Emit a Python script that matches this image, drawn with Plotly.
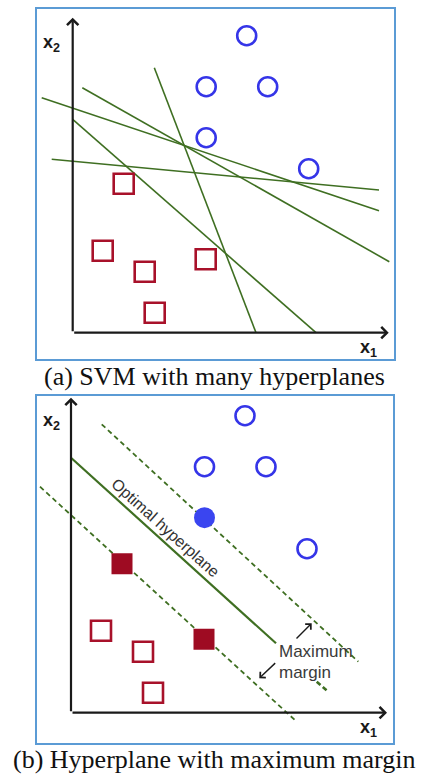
import plotly.graph_objects as go

# ---------------- data (coordinates relative to the x1/x2 origin) ----------------
circle_x = [174, 133.5, 195, 133.5, 236]
circle_y = [297, 246, 246, 195, 164]
square_x = [51, 30, 72, 133, 82]
square_y = [149, 82, 61, 73.5, 20]
support_circles = [3]        # filled circle in panel (b)
support_squares = [0, 3]     # filled squares in panel (b)

# panel (a): many separating hyperplanes (start / end points)
hyp_x0 = [81.6, -31, 9.6, 0, -21]
hyp_y0 = [265, 235, 245, 213.4, 173.4]
hyp_x1 = [183.3, 306.3, 316.6, 243.3, 306.3]
hyp_y1 = [0, 122, 71, 0, 142.7]

# panel (b): optimal hyperplane and margins
opt_x = [0, 205]
opt_y = [255, 69.4]
opt_tail_x = [245.7, 257.3]
opt_tail_y = [31, 21]
upper_x = [30.7, 287.3]
upper_y = [288.4, 51]
lower_x = [-31, 225.7]
lower_y = [226, -9]

axis_end_x = 316
axis_end_y = 315

captions = ["(a) SVM with many hyperplanes", "(b) Hyperplane with maximum margin"]

# ---------------- styles ----------------
GREEN = "#3f6f22"
BLUE = "#3535e8"
RED = "#a8112a"
FRAME = "#5b9bd5"
AXC = "#1a1a1a"
SANS = "Liberation Sans, Arial, sans-serif"
SERIF = "Liberation Serif, Times New Roman, serif"

fig = go.Figure()


def seg_xy(x0, y0, x1, y1):
    xs, ys = [], []
    for a, b, c, d in zip(x0, y0, x1, y1):
        xs += [a, c, None]
        ys += [b, d, None]
    return xs, ys


# panel (a)
hx, hy = seg_xy(hyp_x0, hyp_y0, hyp_x1, hyp_y1)
fig.add_trace(go.Scatter(x=hx, y=hy, mode="lines", line=dict(color=GREEN, width=1.6),
                         xaxis="x", yaxis="y", hoverinfo="skip"))
fig.add_trace(go.Scatter(x=circle_x, y=circle_y, mode="markers",
                         marker=dict(symbol="circle-open", size=19, color=BLUE,
                                     line=dict(width=2.6, color=BLUE)),
                         xaxis="x", yaxis="y"))
fig.add_trace(go.Scatter(x=square_x, y=square_y, mode="markers",
                         marker=dict(symbol="square-open", size=20, color=RED,
                                     line=dict(width=2.6, color=RED)),
                         xaxis="x", yaxis="y"))

# panel (b)
fig.add_trace(go.Scatter(x=opt_x, y=opt_y, mode="lines", line=dict(color=GREEN, width=2.2),
                         xaxis="x2", yaxis="y2", hoverinfo="skip"))
fig.add_trace(go.Scatter(x=opt_tail_x, y=opt_tail_y, mode="lines",
                         line=dict(color=GREEN, width=2.6, dash="5px,3px"),
                         xaxis="x2", yaxis="y2", hoverinfo="skip"))
for lx, ly in ((upper_x, upper_y), (lower_x, lower_y)):
    fig.add_trace(go.Scatter(x=lx, y=ly, mode="lines",
                             line=dict(color=GREEN, width=1.8, dash="5px,3.5px"),
                             xaxis="x2", yaxis="y2", hoverinfo="skip"))

open_c = [i for i in range(len(circle_x)) if i not in support_circles]
open_s = [i for i in range(len(square_x)) if i not in support_squares]
fig.add_trace(go.Scatter(x=[circle_x[i] for i in open_c], y=[circle_y[i] for i in open_c],
                         mode="markers",
                         marker=dict(symbol="circle-open", size=19, color=BLUE,
                                     line=dict(width=2.6, color=BLUE)),
                         xaxis="x2", yaxis="y2"))
fig.add_trace(go.Scatter(x=[circle_x[i] for i in support_circles],
                         y=[circle_y[i] for i in support_circles], mode="markers",
                         marker=dict(symbol="circle", size=21, color="#3a45f0",
                                     line=dict(width=0)),
                         xaxis="x2", yaxis="y2"))
fig.add_trace(go.Scatter(x=[square_x[i] for i in open_s], y=[square_y[i] for i in open_s],
                         mode="markers",
                         marker=dict(symbol="square-open", size=20, color=RED,
                                     line=dict(width=2.6, color=RED)),
                         xaxis="x2", yaxis="y2"))
fig.add_trace(go.Scatter(x=[square_x[i] for i in support_squares],
                         y=[square_y[i] for i in support_squares], mode="markers",
                         marker=dict(symbol="square", size=21, color="#9e0b22",
                                     line=dict(width=0)),
                         xaxis="x2", yaxis="y2"))

annotations = []
for xr, yr, lab_y2, lab_x1 in (("x", "y", (-21, 289), (296, -16)),
                               ("x2", "y2", (-20, 291), (297, -16))):
    # axes arrows
    annotations.append(dict(x=axis_end_x, y=0, ax=0, ay=0, xref=xr, yref=yr, axref=xr, ayref=yr,
                            showarrow=True, arrowhead=4, arrowsize=1.0, arrowwidth=2.2,
                            arrowcolor=AXC, text=""))
    annotations.append(dict(x=0, y=axis_end_y, ax=0, ay=0, xref=xr, yref=yr, axref=xr, ayref=yr,
                            showarrow=True, arrowhead=4, arrowsize=1.0, arrowwidth=2.2,
                            arrowcolor=AXC, text=""))
    annotations.append(dict(x=lab_y2[0], y=lab_y2[1], xref=xr, yref=yr, showarrow=False,
                            xanchor="center", yanchor="middle",
                            text="<b>x<sub>2</sub></b>", font=dict(family=SANS, size=18, color=AXC)))
    annotations.append(dict(x=lab_x1[0], y=lab_x1[1], xref=xr, yref=yr, showarrow=False,
                            xanchor="center", yanchor="middle",
                            text="<b>x<sub>1</sub></b>", font=dict(family=SANS, size=18, color=AXC)))

annotations.append(dict(x=94, y=185, xref="x2", yref="y2", showarrow=False, textangle=42,
                        text="Optimal hyperplane", font=dict(family=SANS, size=16, color="#333333")))
annotations.append(dict(x=206, y=61, xref="x2", yref="y2", showarrow=False, xanchor="left",
                        yanchor="middle",
                        text="Maximum", font=dict(family=SANS, size=17, color="#3a3a3a")))
annotations.append(dict(x=206, y=40, xref="x2", yref="y2", showarrow=False, xanchor="left",
                        yanchor="middle",
                        text="margin", font=dict(family=SANS, size=17, color="#3a3a3a")))
annotations.append(dict(x=240.7, y=89.4, ax=224, ay=72.7, xref="x2", yref="y2", axref="x2", ayref="y2",
                        showarrow=True, arrowhead=4, arrowsize=1.1, arrowwidth=1.4,
                        arrowcolor=AXC, text=""))
annotations.append(dict(x=188.3, y=34.4, ax=205.7, ay=51, xref="x2", yref="y2", axref="x2", ayref="y2",
                        showarrow=True, arrowhead=4, arrowsize=1.1, arrowwidth=1.4,
                        arrowcolor=AXC, text=""))

# captions
annotations.append(dict(x=214 / 421, y=1 - 376 / 777, xref="paper", yref="paper", showarrow=False,
                        xanchor="center", yanchor="middle",
                        text=captions[0], font=dict(family=SERIF, size=26, color="#111111")))
annotations.append(dict(x=213.5 / 421, y=1 - 759 / 777, xref="paper", yref="paper", showarrow=False,
                        xanchor="center", yanchor="middle",
                        text=captions[1], font=dict(family=SERIF, size=26, color="#111111")))

ax_common = dict(showline=True, mirror=True, linecolor=FRAME, linewidth=2, showgrid=False,
                 zeroline=False, showticklabels=False, ticks="", fixedrange=True)

fig.update_layout(
    width=421, height=777, margin=dict(l=0, r=0, t=0, b=0),
    paper_bgcolor="white", plot_bgcolor="white", showlegend=False,
    xaxis=dict(domain=[37.3 / 421, 394.3 / 421], range=[-35.4, 321.6], **ax_common),
    yaxis=dict(domain=[1 - 359 / 777, 1 - 9 / 777], range=[-26.3, 323.7], **ax_common),
    xaxis2=dict(domain=[37.3 / 421, 392.7 / 421], range=[-33.7, 321.7], anchor="y2", **ax_common),
    yaxis2=dict(domain=[1 - 743.3 / 777, 1 - 395.7 / 777], range=[-30.6, 317], anchor="x2", **ax_common),
    annotations=annotations,
)

fig.write_html("out.html", config={"displayModeBar": False},
               post_script="document.body.style.margin='0';document.body.style.overflow='hidden';")
